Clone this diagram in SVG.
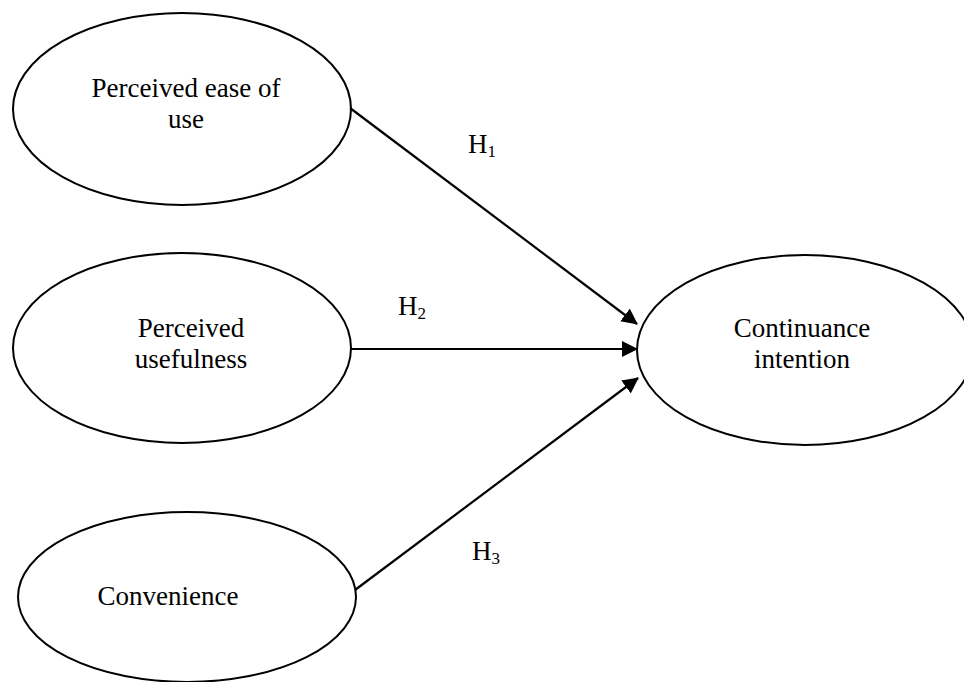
<svg xmlns="http://www.w3.org/2000/svg" width="964" height="682" viewBox="0 0 964 682">
<style>
.node ellipse{fill:#fff;stroke:#000;stroke-width:2}
text{font-family:"Liberation Serif","Times New Roman",serif;font-size:27px;fill:#000}
.lbl{text-anchor:middle}
.conn line{stroke:#000;stroke-width:2.2}
.sub{font-size:17px}
</style>
<defs>
<marker id="ah" markerWidth="16" markerHeight="16" refX="15" refY="8" orient="auto" markerUnits="userSpaceOnUse">
<path d="M0,0 L16,8 L0,16 Z" fill="#000"/>
</marker>
</defs>
<rect width="964" height="682" fill="#fff"/>
<g id="node-peou" class="node">
<ellipse cx="182" cy="109" rx="169" ry="96"/>
<text class="lbl" x="186" y="97">Perceived ease of</text>
<text class="lbl" x="186" y="128">use</text>
</g>
<g id="node-pu" class="node">
<ellipse cx="182" cy="348" rx="169" ry="95"/>
<text class="lbl" x="191" y="337">Perceived</text>
<text class="lbl" x="191" y="368">usefulness</text>
</g>
<g id="node-conv" class="node">
<ellipse cx="187" cy="597" rx="169" ry="85"/>
<text class="lbl" x="168" y="605">Convenience</text>
</g>
<g id="node-ci" class="node">
<ellipse cx="805" cy="350" rx="168" ry="95"/>
<text class="lbl" x="802" y="337">Continuance</text>
<text class="lbl" x="802" y="368">intention</text>
</g>
<g id="connectors" class="conn">
<line x1="350" y1="108" x2="637" y2="324" marker-end="url(#ah)"/>
<line x1="351" y1="349" x2="637" y2="349" marker-end="url(#ah)"/>
<line x1="355" y1="590" x2="638" y2="378" marker-end="url(#ah)"/>
<text x="468" y="153">H<tspan class="sub" dy="4">1</tspan></text>
<text x="398" y="315">H<tspan class="sub" dy="4">2</tspan></text>
<text x="472" y="560">H<tspan class="sub" dy="4">3</tspan></text>
</g>
</svg>
